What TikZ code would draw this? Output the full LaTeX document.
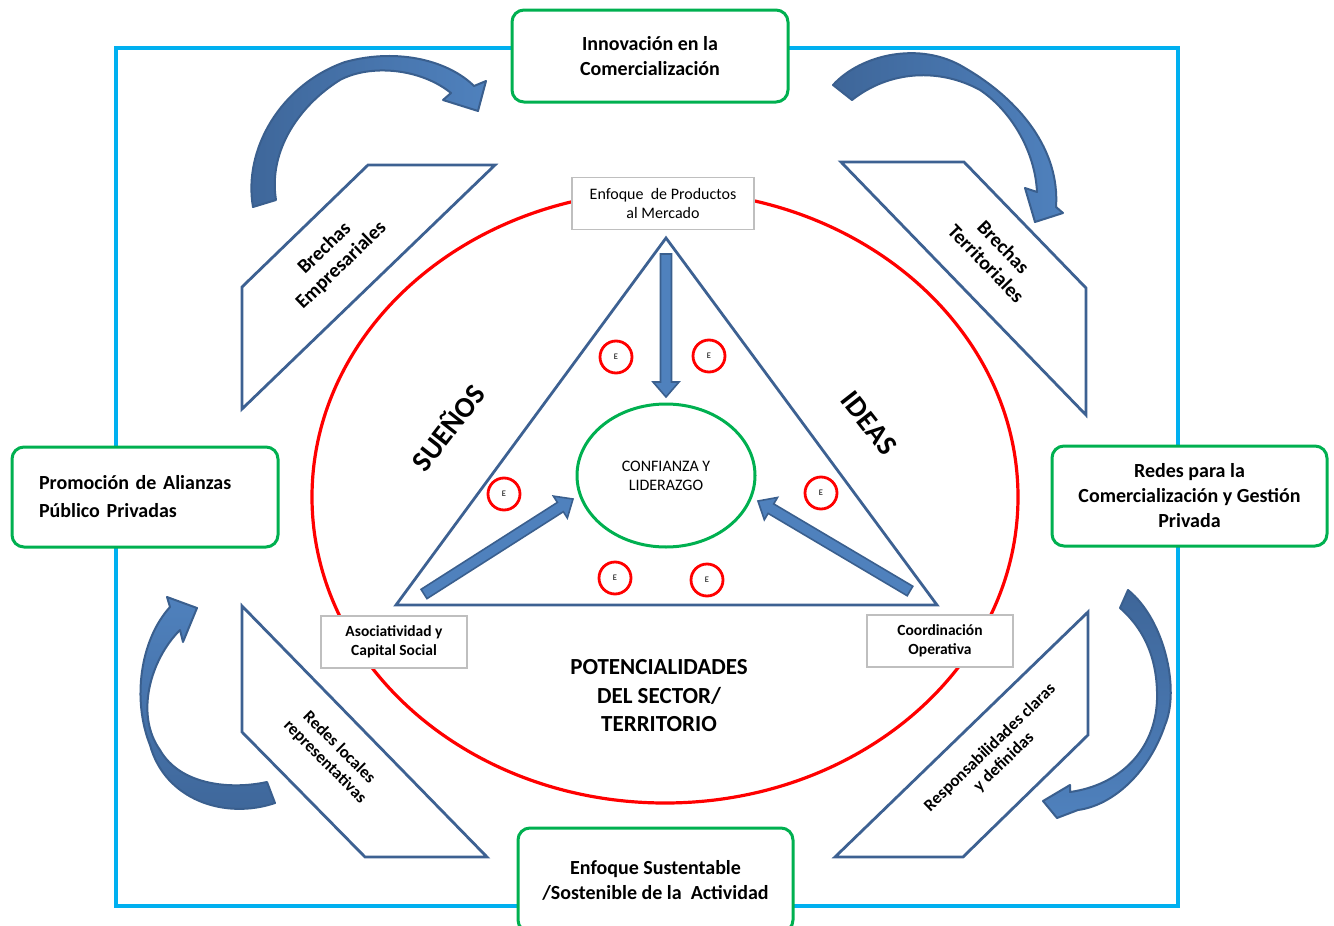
\documentclass[tikz,border=0pt]{standalone}
\usepackage{fontspec}
\setmainfont{Carlito}
\usetikzlibrary{calc,shapes.geometric}

\definecolor{frameblue}{HTML}{00B0F0}
\definecolor{leafgreen}{HTML}{00B050}
\definecolor{steel}{HTML}{3D6192}
\definecolor{arrowfill}{HTML}{4F81BD}
\definecolor{arrowdark}{HTML}{3E6699}
\definecolor{arrowline}{HTML}{3A5F8E}
\definecolor{lightgrey}{HTML}{BFBFBF}

% straight block arrow from #1 to #2
\newcommand\blockarrow[2]{%
  \coordinate (#1-h) at ($(#2)!15pt!(#1)$);
  \path[blockarr] ($(#1)!5.5pt!90:(#2)$) -- ($(#1-h)!5.5pt!-90:(#1)$)
    -- ($(#1-h)!13pt!-90:(#1)$) -- (#2) -- ($(#1-h)!13pt!90:(#1)$)
    -- ($(#1-h)!5.5pt!90:(#1)$) -- ($(#1)!5.5pt!-90:(#2)$) -- cycle;}

\begin{document}
\begin{tikzpicture}[x=1pt, y=-1pt,
  greenbox/.style={draw=leafgreen, line width=3pt, rounded corners=12pt, fill=white, align=center, inner sep=0pt},
  titlefont/.style={font=\fontsize{20}{25}\selectfont\bfseries},
  greybox/.style={draw=lightgrey, line width=1.8pt, fill=white, align=center, inner sep=0pt},
  para/.style={draw=steel, line width=2.8pt, fill=white, line join=miter},
  paratext/.style={align=center, inner sep=0pt},
  enode/.style={circle, draw=red, line width=2.8pt, minimum size=32pt, inner sep=0pt, fill=white, font=\fontsize{8.5}{9}\selectfont},
  curved/.style={draw=arrowline, line width=2pt, line join=round},
  blockarr/.style={fill=arrowfill, draw=arrowline, line width=1.6pt, line join=miter}]

\useasboundingbox (0,0) rectangle (1334,926);
\begin{scope}
\clip (0,0) rectangle (1334,926);

% outer frame
\draw[frameblue, line width=3.2pt] (116,48) rectangle (1178,906);

% four green boxes on the frame
\node[greenbox, titlefont, minimum width=276pt, minimum height=92pt] (innov) at (650,56)
  {Innovación en la\\Comercialización};
\node[greenbox, font=\fontsize{20}{28}\selectfont\bfseries, minimum width=266pt, minimum height=100pt,
  text width=212pt, align=left] (alianzas) at (145,497)
  {Promoción de Alianzas\\Público Privadas};
\node[greenbox, titlefont, minimum width=275pt, minimum height=100pt] (redes) at (1189.5,496)
  {Redes para la\\Comercialización y Gestión\\Privada};
\node[greenbox, titlefont, minimum width=275pt, minimum height=104pt] (sust) at (655.5,880)
  {Enfoque Sustentable\\/Sostenible de la\ \ Actividad};

% slanted bands
\draw[para] (368,165) -- (495,165) -- (242,409) -- (242,287) -- cycle;
\draw[para] (841,162) -- (964,162) -- (1086,288) -- (1086,415) -- cycle;
\draw[para] (242,606) -- (487,857) -- (365,857) -- (242,732) -- cycle;
\draw[para] (1088,612) -- (1088,735) -- (963,857) -- (835,857) -- cycle;

\node[paratext, rotate=44, font=\fontsize{20}{24}\selectfont\bfseries] (brE) at (333,257)
  {Brechas\\Empresariales};
\node[paratext, rotate=-46, font=\fontsize{20}{24}\selectfont\bfseries] (brT) at (995,255)
  {Brechas\\Territoriales};
\node[paratext, rotate=-45, font=\fontsize{17}{20}\selectfont\bfseries] (rloc) at (332,755)
  {Redes locales\\representativas};
\node[paratext, rotate=44, font=\fontsize{17}{20}\selectfont\bfseries] (resp) at (997,755)
  {Responsabilidades claras\\y definidas};

% curved arrows around the frame
\path[curved, left color=arrowdark, right color=arrowfill]
  (253,207) .. controls (243,150) and (280,85) .. (345,62)
  .. controls (400,47) and (450,62) .. (474,86) -- (486,81) -- (478,111) -- (443,100) -- (451,93)
  .. controls (420,68) and (370,64) .. (340,80)
  .. controls (300,105) and (268,150) .. (276,200) -- cycle;
\path[curved, left color=arrowdark, right color=arrowfill]
  (833,85) .. controls (860,55) and (920,40) .. (965,68)
  .. controls (1020,100) and (1060,150) .. (1056,207) -- (1063,213) -- (1035,222) -- (1025,188) -- (1037,192)
  .. controls (1035,150) and (1010,110) .. (980,90)
  .. controls (940,68) and (890,70) .. (852,100) -- cycle;
\path[curved, top color=arrowfill, bottom color=arrowdark]
  (275,803) .. controls (225,820) and (165,800) .. (150,745)
  .. controls (132,700) and (140,640) .. (170,607) -- (167,597) -- (197,608) -- (183,642) -- (180,630)
  .. controls (150,660) and (135,715) .. (160,750)
  .. controls (180,785) and (230,790) .. (267,782) -- cycle;
\path[curved, top color=arrowdark, bottom color=arrowfill]
  (1128,590) .. controls (1165,620) and (1180,690) .. (1165,725)
  .. controls (1150,770) and (1115,805) .. (1078,810) -- (1057,818) -- (1043,801) -- (1070,785) -- (1070,792)
  .. controls (1120,785) and (1155,750) .. (1157,700)
  .. controls (1158,660) and (1145,630) .. (1120,608) -- cycle;

% central ring and triangle
\node[ellipse, draw=red, line width=3.2pt, minimum width=706pt, minimum height=612pt, inner sep=0pt] (ring) at (665,497) {};
\coordinate (tA) at (666,238);
\coordinate (tL) at (396,605);
\coordinate (tR) at (937,605);
\draw[steel, line width=2.8pt, line join=miter] (tA) -- (tL) -- (tR) -- cycle;

\node[ellipse, draw=leafgreen, line width=3pt, minimum width=178pt, minimum height=143pt, inner sep=0pt,
  align=center, font=\fontsize{16}{19}\selectfont] (core) at (666,475.5) {CONFIANZA Y\\LIDERAZGO};

\node[enode] (e1) at (616,357) {E};
\node[enode] (e2) at (709,356) {E};
\node[enode] (e3) at (504,494) {E};
\node[enode] (e4) at (821,493) {E};
\node[enode] (e5) at (615,578) {E};
\node[enode] (e6) at (707,580) {E};

% block arrows towards the core
\coordinate (dA) at (666,254);
\coordinate (dB) at (666,397);
\coordinate (lA) at (424,594);
\coordinate (lB) at (573,499);
\coordinate (rA) at (910,591);
\coordinate (rB) at (758,501);
\blockarrow{dA}{dB}
\blockarrow{lA}{lB}
\blockarrow{rA}{rB}

% labelled grey boxes
\node[greybox, minimum width=182pt, minimum height=52pt, font=\fontsize{16}{18.5}\selectfont] (prod) at (663,203.5)
  {Enfoque\ \ de Productos\\al Mercado};
\node[greybox, minimum width=146pt, minimum height=52pt, font=\fontsize{15.5}{19}\selectfont\bfseries] (asoc) at (394,642)
  {Asociatividad y\\Capital Social};
\node[greybox, minimum width=146pt, minimum height=52pt, font=\fontsize{15.5}{19}\selectfont\bfseries] (coord) at (940,641)
  {Coordinación\\Operativa};

% side words and bottom caption
\node[rotate=52, inner sep=0pt, font=\fontsize{29}{32}\selectfont\bfseries] (suenos) at (447,427) {SUEÑOS};
\node[rotate=-52, inner sep=0pt, font=\fontsize{29}{32}\selectfont\bfseries] (ideas) at (869,423) {IDEAS};
\node[align=center, inner sep=0pt, font=\fontsize{23}{28.5}\selectfont\bfseries] (poten) at (659,696)
  {POTENCIALIDADES\\DEL SECTOR/\\TERRITORIO};
\end{scope}
\end{tikzpicture}
\end{document}
